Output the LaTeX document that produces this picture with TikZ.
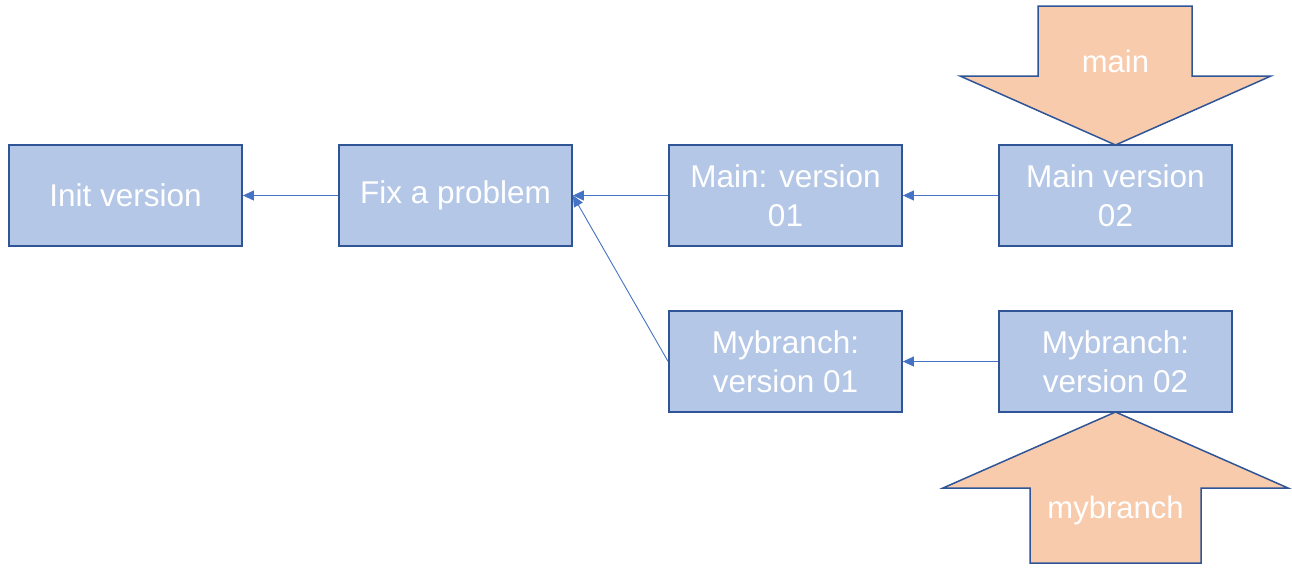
\documentclass[tikz,border=0pt]{standalone}
\usepackage{fontspec}
\setmainfont{Liberation Sans}
\usetikzlibrary{arrows.meta}
\definecolor{boxfill}{HTML}{B4C7E7}
\definecolor{boxline}{HTML}{2F5597}
\definecolor{conn}{HTML}{4472C4}
\definecolor{orangefill}{HTML}{F8CBAD}
\tikzset{
  commit/.style={draw=boxline, fill=boxfill, line width=1.8pt, minimum width=233pt, minimum height=101pt, inner sep=0pt, align=center, text=white, font=\fontsize{31.5}{39}\selectfont},
  link/.style={draw=conn, line width=0.9pt, -{Triangle[length=11pt,width=10pt]}},
  pointer/.style={draw=boxline, fill=orangefill, line width=1.5pt, line join=miter},
  ptrlabel/.style={text=white, font=\fontsize{31}{36}\selectfont, inner sep=0pt}
}
\begin{document}
\begin{tikzpicture}[x=1pt,y=-1pt]
\useasboundingbox (0,0) rectangle (1292,576);
\fill[white] (0,0) rectangle (1292,576);
% pointer arrows
\path[pointer] (1038,6) -- (1192,6) -- (1192,76) -- (1271,76) -- (1115.5,145) -- (960,76) -- (1038,76) -- cycle;
\node[ptrlabel] (lmain) at (1115.5,61) {main};
\path[pointer] (1030,563) -- (1201,563) -- (1201,488) -- (1288,488) -- (1115.5,412) -- (943,488) -- (1030,488) -- cycle;
\node[ptrlabel] (lmy) at (1115.5,510) {mybranch};
% commits
\node[commit] (init) at (125.5,195.5) {Init version};
\node[commit] (fix) at (455.5,195.5) {Fix a problem};
\node[commit] (m1) at (785.5,195.5) {Main: version\\01};
\node[commit] (m2) at (1115.5,195.5) {Main version\\02};
\node[commit] (b1) at (785.5,361.5) {Mybranch:\\version 01};
\node[commit] (b2) at (1115.5,361.5) {Mybranch:\\version 02};
% connectors
\draw[link] (fix.west) -- (init.east);
\draw[link] (m1.west) -- (fix.east);
\draw[link] (b1.west) -- (fix.east);
\draw[link] (m2.west) -- (m1.east);
\draw[link] (b2.west) -- (b1.east);
\end{tikzpicture}
\end{document}
